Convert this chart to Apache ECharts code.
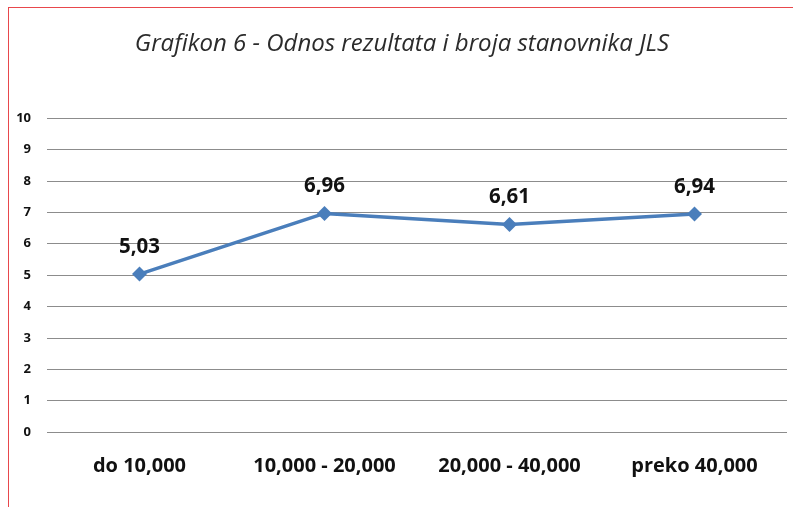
<!DOCTYPE html>
<html>
<head>
<meta charset="utf-8">
<script src="https://cdn.jsdelivr.net/npm/echarts@6/dist/echarts.min.js"></script>
<style>
  html, body { margin: 0; padding: 0; background: #fff; }
  #frame { position: absolute; left: 8px; top: 7px; width: 800px; height: 520px;
           border-left: 1.5px solid #e8474c; border-top: 1.5px solid #e8474c; }
  #chart { position: absolute; left: 0; top: 0; width: 793px; height: 507px; }
</style>
</head>
<body>
<div id="frame"></div>
<div id="chart"></div>
<script>
const categories = ["do 10,000", "10,000 - 20,000", "20,000 - 40,000", "preko 40,000"];
const values = [5.03, 6.96, 6.61, 6.94];
const yTicks = [0, 1, 2, 3, 4, 5, 6, 7, 8, 9, 10];

const myChart = echarts.init(document.getElementById("chart"));
const option = {
  title: {
    text: "Grafikon 6 - Odnos rezultata i broja stanovnika JLS",
    left: 397,
    textAlign: "center",
    top: 27,
    textStyle: {
      fontFamily: "Open Sans",
      fontStyle: "italic",
      fontWeight: "normal",
      fontSize: 24,
      color: "#2b2b2b"
    }
  },
  grid: { left: 47, right: 6, top: 118, bottom: 75 },
  xAxis: {
    type: "category",
    data: categories,
    boundaryGap: true,
    axisLine: { show: false },
    axisTick: { show: false },
    axisLabel: {
      interval: 0,
      hideOverlap: false,
      margin: 24,
      fontFamily: "Open Sans",
      fontWeight: "bold",
      fontSize: 20,
      color: "#111"
    }
  },
  yAxis: {
    type: "value",
    min: yTicks[0],
    max: yTicks[yTicks.length - 1],
    interval: 1,
    axisLine: { show: false },
    axisTick: { show: false },
    splitLine: { lineStyle: { color: "#8c8c8c", width: 1 } },
    axisLabel: {
      margin: 16,
      fontFamily: "Open Sans",
      fontWeight: "bold",
      fontSize: 13,
      color: "#111"
    }
  },
  series: [{
    type: "line",
    data: values,
    symbol: "diamond",
    symbolSize: 15,
    lineStyle: { color: "#4a7ebb", width: 3.5 },
    itemStyle: { color: "#4a7ebb" },
    label: {
      show: true,
      position: "top",
      distance: 9,
      formatter: p => p.value.toFixed(2).replace(".", ","),
      fontFamily: "Open Sans",
      fontWeight: "bold",
      fontSize: 20.5,
      color: "#111"
    }
  }]
};
myChart.setOption(option);
</script>
</body>
</html>
